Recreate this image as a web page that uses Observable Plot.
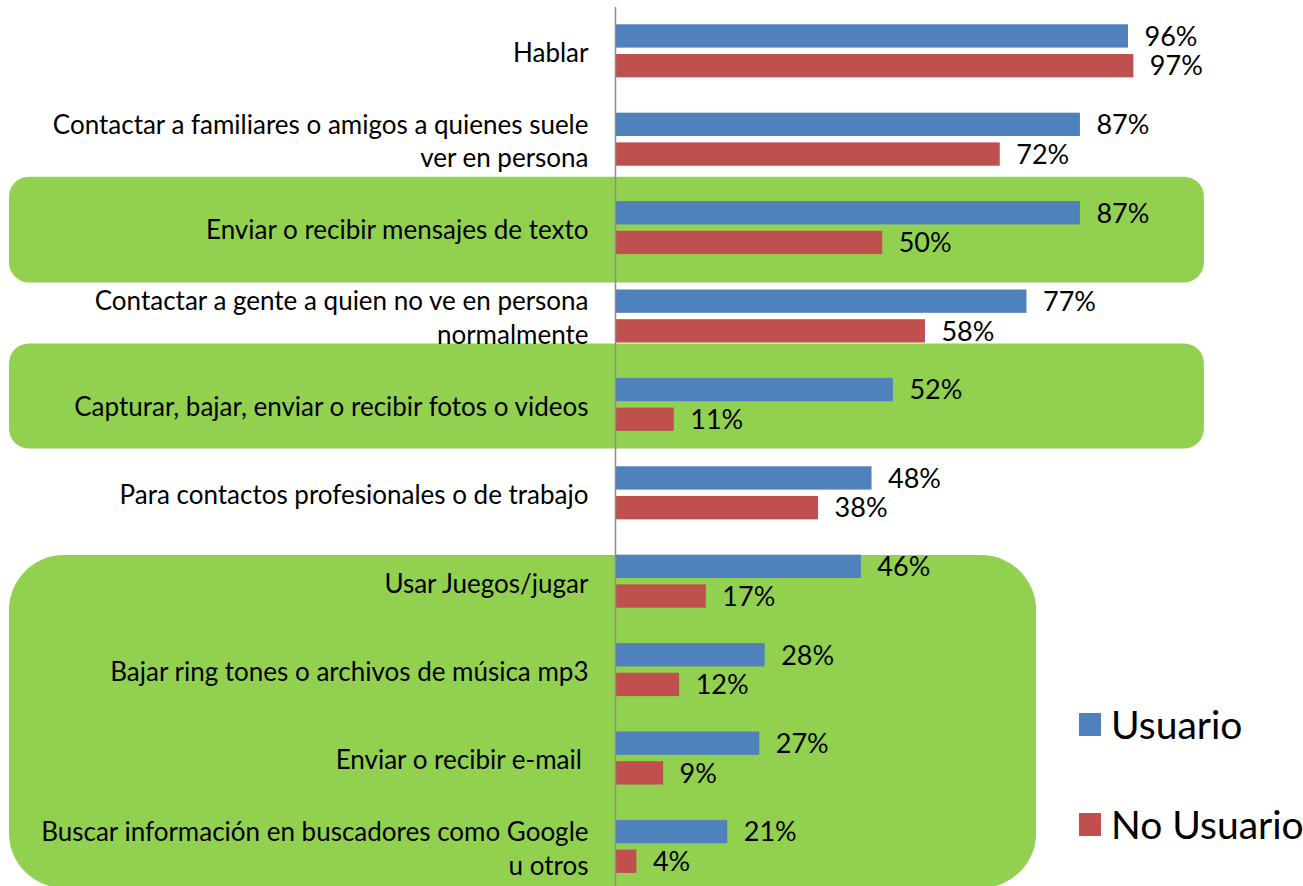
<!DOCTYPE html>
<html>
<head>
<meta charset="utf-8">
<script src="https://cdn.jsdelivr.net/npm/d3@7"></script>
<script src="https://cdn.jsdelivr.net/npm/@observablehq/plot@0.6"></script>
<style>
  body { margin: 0; background: #fff; }
  #wrap { position: relative; width: 1303px; height: 886px; overflow: hidden; }
  #legend { position: absolute; left: 1079px; top: 694px; font-family: Lato, sans-serif; font-size: 39px; color: #000; white-space: nowrap; }
  #legend .item { display: flex; align-items: center; height: 60px; margin-bottom: 40px; }
  #legend .sw { width: 22px; height: 23px; margin-right: 10px; flex: none; }
</style>
</head>
<body>
<div id="wrap"></div>
<script>
// ---- data ----
const categories = [
  "Hablar",
  "Contactar a familiares o amigos a quienes suele\nver en persona",
  "Enviar o recibir mensajes de texto",
  "Contactar a gente a quien no ve en persona\nnormalmente",
  "Capturar, bajar, enviar o recibir fotos o videos",
  "Para contactos profesionales o de trabajo",
  "Usar Juegos/jugar",
  "Bajar ring tones o archivos de música mp3",
  "Enviar o recibir e-mail\u00a0",
  "Buscar información en buscadores como Google\nu otros"
];
const usuario   = [96, 87, 87, 77, 52, 48, 46, 28, 27, 21];
const noUsuario = [97, 72, 50, 58, 11, 38, 17, 12,  9,  4];
const seriesNames  = ["Usuario", "No Usuario"];
const seriesColors = ["#4F81BD", "#C0504D"];
// highlighted groups of categories (first, last)
const highlightGroups = [
  [categories[2], categories[2]],
  [categories[4], categories[4]],
  [categories[6], categories[9]]
];

// ---- table ----
const rows = categories.flatMap((c, i) => [
  {cat: c, i, series: seriesNames[0], value: usuario[i]},
  {cat: c, i, series: seriesNames[1], value: noUsuario[i]}
]);
const idx = c => categories.indexOf(c);

// annotation box geometry (band units / percent)
const boxStyle = [
  {top: -0.576, bottom: 0.62, left: -113.4, right: 110.2, rx: 20},
  {top: -0.69,  bottom: 0.50, left: -113.4, right: 110.2, rx: 20},
  {top: -0.296, bottom: 0.47, left: -113.4, right: 78.8,  rx: 55}
];
const boxes = highlightGroups.map(([a, b], k) => ({a, b, ...boxStyle[k]}));

const isU = d => d.series === seriesNames[0];

const chart = Plot.plot({
  width: 1303,
  height: 886,
  marginTop: 7,
  marginBottom: 0,
  marginLeft: 615,
  marginRight: 154,
  style: {fontFamily: "Lato, sans-serif", background: "transparent", overflow: "visible"},
  x: {domain: [0, 100], range: [615, 1149.4], axis: null},
  y: {domain: [-0.5, 9.5], range: [6.6, 890.6], axis: null},
  color: {domain: seriesNames, range: seriesColors},
  marks: [
    ...boxes.map(b => Plot.rect([b], {
      x1: d => d.left, x2: d => d.right,
      y1: d => idx(d.a) + d.top, y2: d => idx(d.b) + d.bottom,
      fill: "#92D050", rx: b.rx
    })),
    Plot.rect(rows, {
      x1: () => 0, x2: "value",
      y1: d => d.i + (isU(d) ? -0.30 : 0.036),
      y2: d => d.i + (isU(d) ? -0.036 : 0.30),
      fill: "series"
    }),
    Plot.ruleX([0], {stroke: "#8c8c8c", strokeWidth: 1.5}),
    Plot.text(rows, {
      x: "value",
      y: d => d.i + (isU(d) ? -0.16 : 0.175),
      text: d => d.value + "%",
      dx: 16, textAnchor: "start", fontSize: 27, fill: "#000"
    }),
    Plot.text(categories, {
      x: () => 0, y: (d, i) => i, text: d => d,
      dx: -27, textAnchor: "end", fontSize: 26, lineHeight: 1.3, fill: "#000"
    })
  ]
});
document.getElementById("wrap").appendChild(chart);

// legend
const legend = document.createElement("div");
legend.id = "legend";
seriesNames.forEach((s, k) => {
  const it = document.createElement("div");
  it.className = "item";
  const sw = document.createElement("span");
  sw.className = "sw";
  sw.style.background = seriesColors[k];
  const t = document.createElement("span");
  t.textContent = s;
  it.appendChild(sw); it.appendChild(t);
  legend.appendChild(it);
});
document.getElementById("wrap").appendChild(legend);
</script>
</body>
</html>
